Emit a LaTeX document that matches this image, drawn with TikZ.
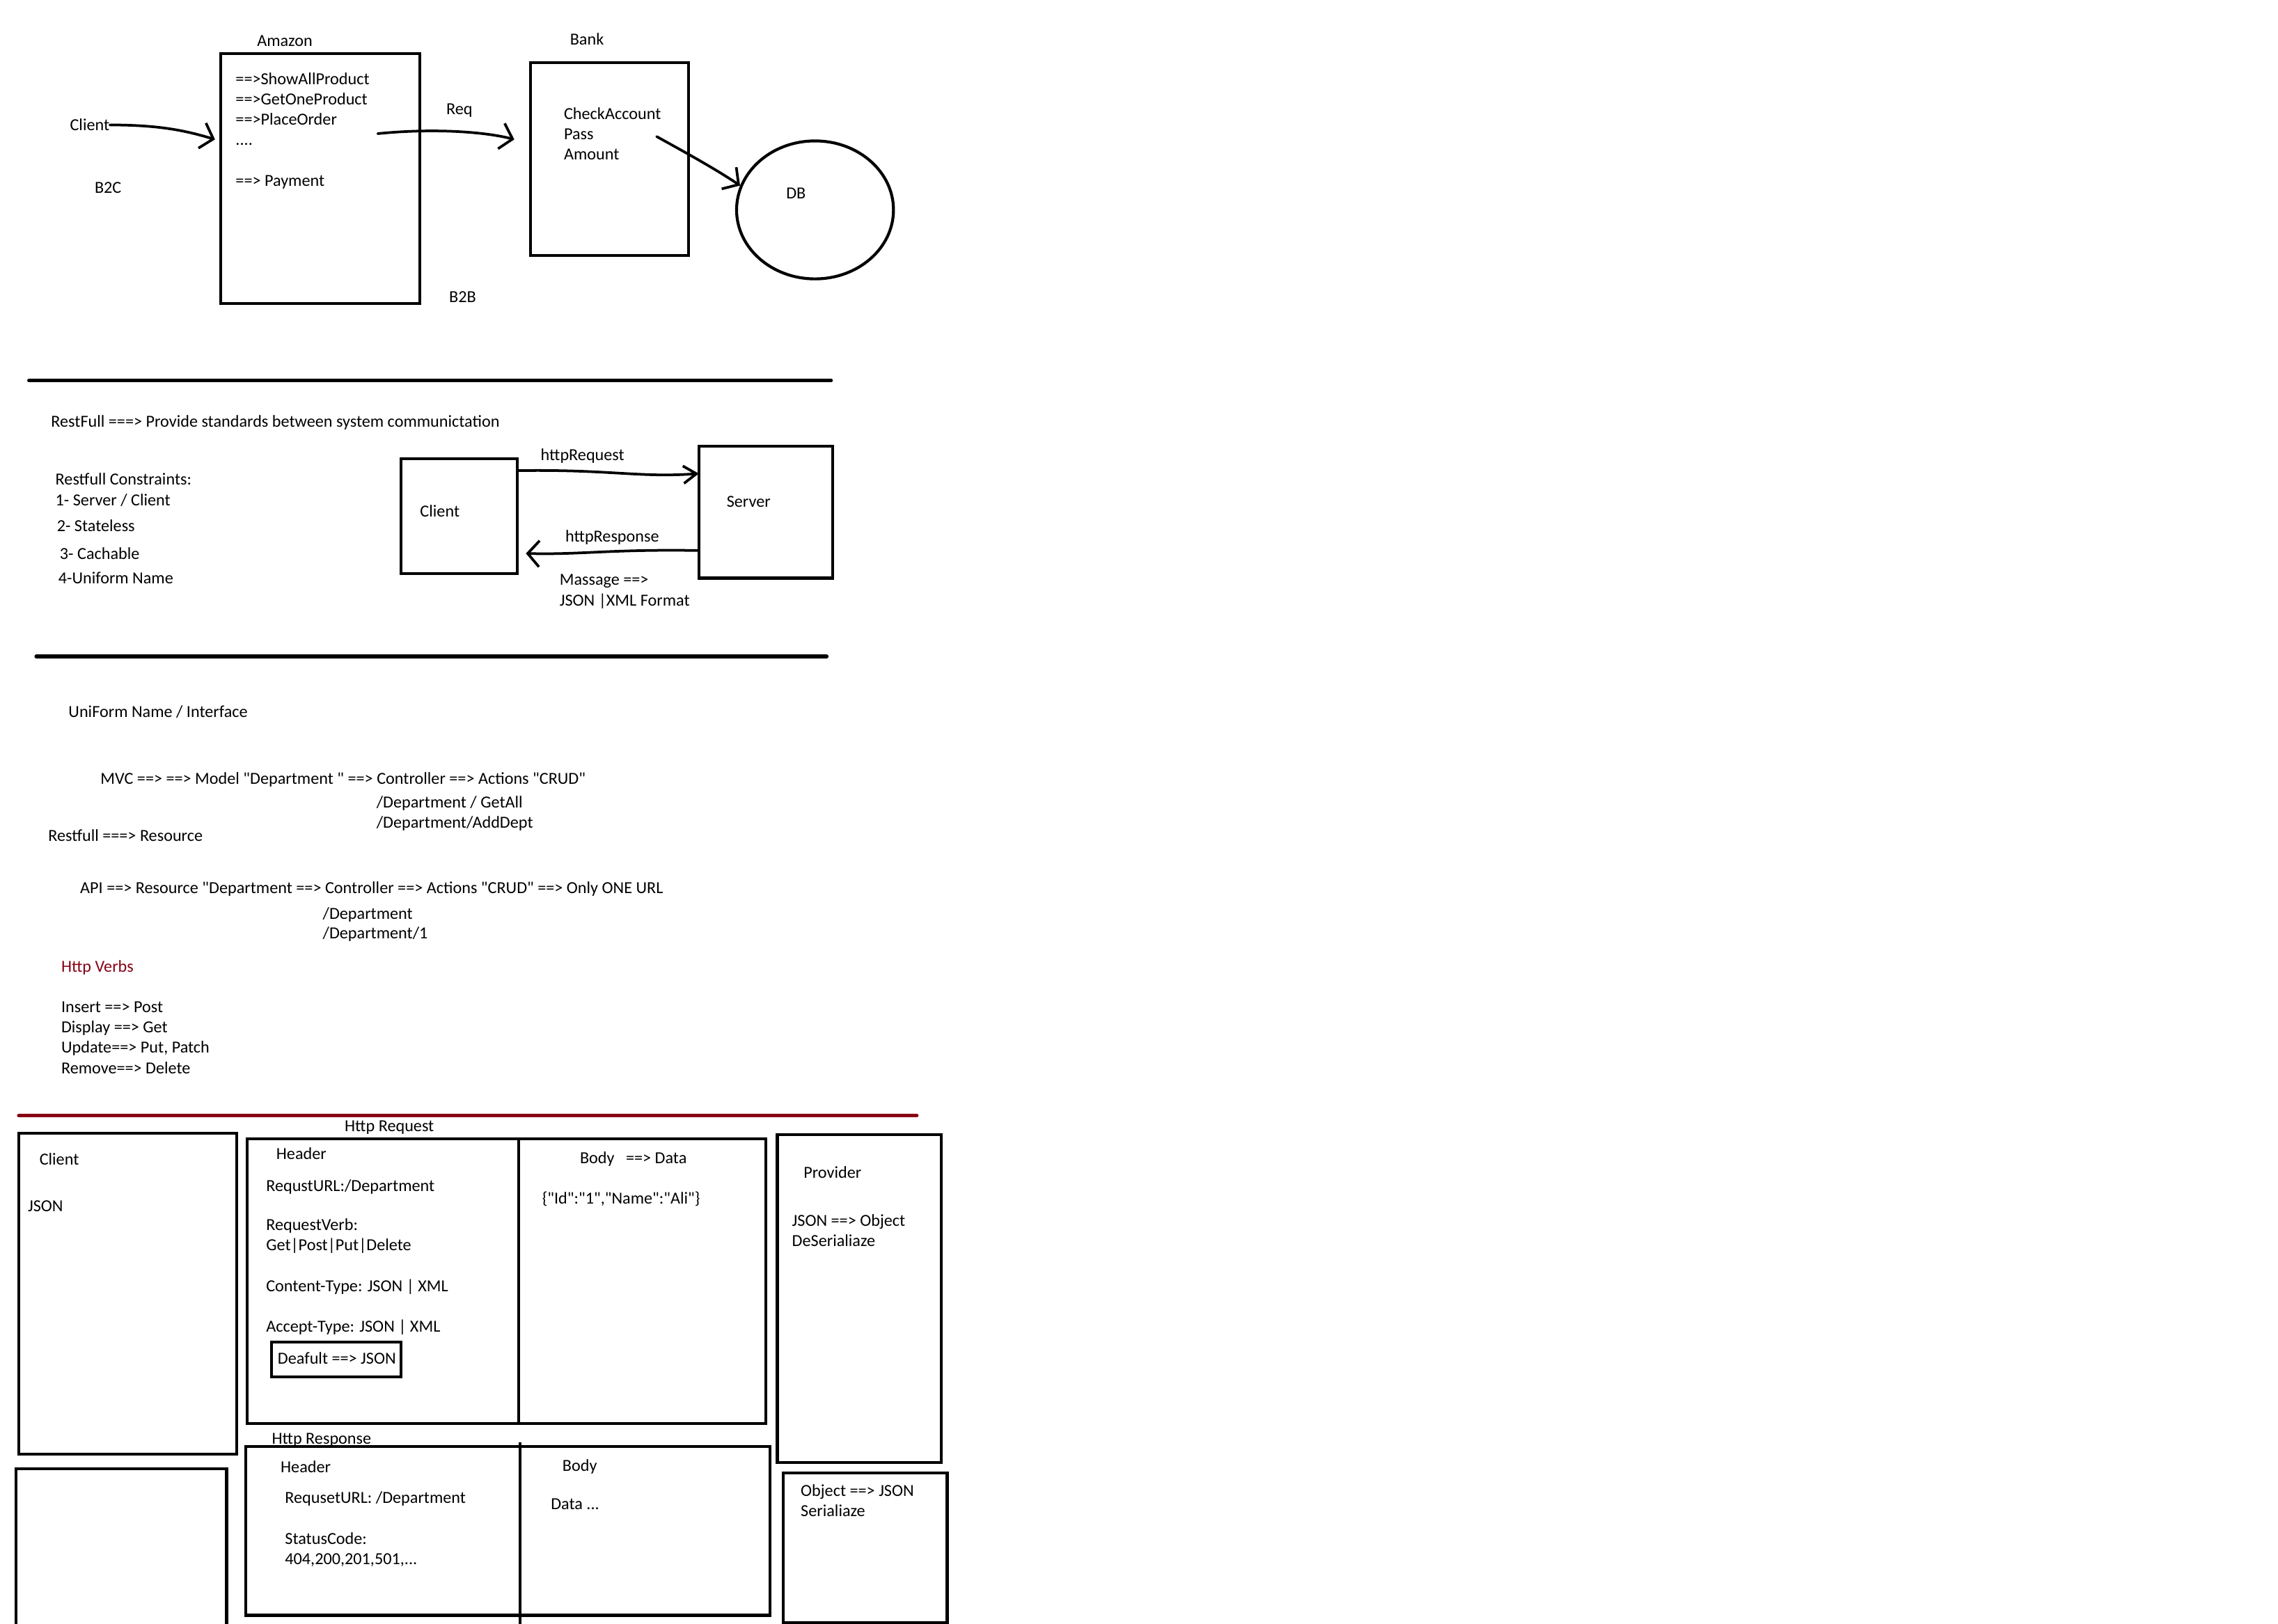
\documentclass[tikz,border=0pt]{standalone}
\usepackage{fontspec}
\setmainfont{Carlito}[Ligatures=TeXOff]
\usetikzlibrary{arrows.meta,shapes.geometric,calc}
\definecolor{pdred}{RGB}{136,0,21}
\begin{document}
\begin{tikzpicture}[x=1pt,y=-1pt,
  txt/.style={anchor=base west,inner sep=0pt,font=\fontsize{11.6}{14}\selectfont},
  ctxt/.style={anchor=base,inner sep=0pt,font=\fontsize{11.6}{14}\selectfont},
  box/.style={draw,line width=2pt,inner sep=0pt,outer sep=0pt},
  sepline/.style={line width=2.6pt,line cap=round},
  hand/.style={line width=1.8pt,line cap=round,line join=round},
  bigtip/.style={-{Straight Barb[length=8pt,width=18pt,line width=1.8pt]}},
  smalltip/.style={-{Straight Barb[length=9pt,width=12pt,line width=1.8pt]}}
  ]
\fill[white] (0,0) rectangle (1568,1118);
\useasboundingbox (0,0) rectangle (1568,1118);

% ---------- top section ----------
\node[ctxt] (amazonlbl) at (196,32) {Amazon};
\node[box,minimum width=137pt,minimum height=172pt] (amazon) at (220.5,123) {};
\node[txt] (a1) at (162,58) {==>ShowAllProduct};
\node[txt] (a2) at (162,72) {==>GetOneProduct};
\node[txt] (a3) at (162,86) {==>PlaceOrder};
\node[txt] (a4) at (162,100) {....};
\node[txt] (a5) at (162,128) {==> Payment};

\node[txt] (clientlbl) at (48,90) {Client};
\node[txt] (b2c) at (65,133) {B2C};
\coordinate (clienttip) at (148,96);
\draw[hand,bigtip] (clientlbl.east) .. controls (110,86) and (128,90) .. (clienttip);

\node[txt] (req) at (307,79) {Req};
\coordinate (reqstart) at (260,92);
\coordinate (reqtip) at (354,96);
\draw[hand,bigtip] (reqstart) .. controls (300,88) and (335,91) .. (reqtip);

\node[ctxt] (banklbl) at (404,31) {Bank};
\node[box,minimum width=109pt,minimum height=133pt] (bank) at (419.5,109.5) {};
\node[txt] (k1) at (388,82) {CheckAccount};
\node[txt] (k2) at (388,96) {Pass};
\node[txt] (k3) at (388,110) {Amount};

\node[draw,ellipse,line width=2pt,minimum width=108pt,minimum height=95pt,inner sep=0pt] (db) at (561,144.5) {};
\node[txt] (dblbl) at (541,137) {DB};
\coordinate (dbstart) at (452,94);
\draw[hand,bigtip] (dbstart) .. controls (470,104) and (492,116) .. (db.162);

\node[txt] (b2b) at (309,208) {B2B};

\draw[sepline] (20,262) coordinate (s1a) -- (572,262) coordinate (s1b);

% ---------- section 2 ----------
\node[txt] (rf) at (35,294) {RestFull ===> Provide standards between system communictation};
\node[txt] (c0) at (38,334) {Restfull Constraints:};
\node[txt] (c1) at (38,348) {1- Server / Client};
\node[txt] (c2) at (39,366) {2- Stateless};
\node[txt] (c3) at (41,385) {3- Cachable};
\node[txt] (c4) at (40,402) {4-Uniform Name};

\node[box,minimum width=80pt,minimum height=79pt] (client2) at (316,355.5) {};
\node[txt] (client2lbl) at (289,356) {Client};
\node[box,minimum width=92pt,minimum height=91pt] (server) at (527,352.5) {};
\node[txt] (serverlbl) at (500,349) {Server};
\node[txt] (hreq) at (372,317) {httpRequest};
\node[txt] (hres) at (389,373) {httpResponse};
\draw[hand,smalltip] ($(client2.north east)+(0,8)$) .. controls (420,323) and (440,329) .. ($(server.north west)+(0,19)$);
\draw[hand,bigtip] ($(server.south west)+(0,-19)$) .. controls (420,378) and (400,382) .. ($(client2.east)+(6,25.5)$);
\node[txt] (msg1) at (385,403) {Massage ==>};
\node[txt] (msg2) at (385,417) {JSON |XML Format};

\draw[sepline] (25,452) coordinate (s2a) -- (569,452) coordinate (s2b);

% ---------- section 3 ----------
\node[txt] (uni) at (47,494) {UniForm Name / Interface};
\node[txt] (mvc) at (69,540) {MVC ==> ==> Model "Department " ==> Controller ==> Actions "CRUD"};
\node[txt] (m1) at (259,556) {/Department / GetAll};
\node[txt] (m2) at (259,570) {/Department/AddDept};
\node[txt] (rr) at (33,579) {Restfull ===> Resource};
\node[txt] (api) at (55,615) {API ==> Resource "Department ==> Controller ==> Actions "CRUD" ==> Only ONE URL};
\node[txt] (p1) at (222,633) {/Department};
\node[txt] (p2) at (222,646) {/Department/1};
\node[txt,text=pdred] (verbs) at (42,669) {Http Verbs};
\node[txt] (v1) at (42,697) {Insert ==> Post};
\node[txt] (v2) at (42,711) {Display ==> Get};
\node[txt] (v3) at (42,725) {Update==> Put, Patch};
\node[txt] (v4) at (42,739) {Remove==> Delete};

\draw[sepline,draw=pdred] (13,768) coordinate (s3a) -- (631,768) coordinate (s3b);

% ---------- section 4 ----------
\node[ctxt] (httpreq) at (268,779) {Http Request};
\node[box,minimum width=150pt,minimum height=221pt] (clientR) at (88,890.5) {};
\node[txt] (clr1) at (27,802) {Client};
\node[txt] (clr2) at (19,834) {JSON};

\node[box,minimum width=357pt,minimum height=196pt] (request) at (348.5,882) {};
\draw[line width=2pt] (357,784) coordinate (rqd1) -- (357,980) coordinate (rqd2);
\node[txt] (rh) at (190,798) {Header};
\node[txt] (rh1) at (183,820) {RequstURL:/Department};
\node[txt] (rh2) at (183,847) {RequestVerb:};
\node[txt] (rh3) at (183,861) {Get|Post|Put|Delete};
\node[txt] (rh4) at (183,889) {Content-Type: JSON | XML};
\node[txt] (rh5) at (183,917) {Accept-Type: JSON | XML};
\node[box,minimum width=89pt,minimum height=24pt] (defbox) at (231.5,936) {};
\node[txt] (deflbl) at (191,939) {Deafult ==> JSON};
\node[txt] (rb) at (399,801) {Body\ \ \ ==> Data};
\node[txt] (rb1) at (373,829) {\{"Id":"1","Name":"Ali"\}};

\node[box,minimum width=113pt,minimum height=226pt] (provider) at (591.5,894) {};
\node[txt] (pv) at (553,811) {Provider};
\node[txt] (pv1) at (545,844) {JSON ==> Object};
\node[txt] (pv2) at (545,858) {DeSerialiaze};

\node[txt] (httpres) at (187,994) {Http Response};
\node[box,minimum width=361pt,minimum height=116pt] (response) at (349.5,1054) {};
\draw[line width=2pt] (358,993) coordinate (rsd1) -- (358,1118) coordinate (rsd2);
\node[txt] (sh) at (193,1014) {Header};
\node[txt] (sh1) at (196,1035) {RequsetURL: /Department};
\node[txt] (sh2) at (196,1063) {StatusCode:};
\node[txt] (sh3) at (196,1077) {404,200,201,501,...};
\node[txt] (sb) at (387,1013) {Body};
\node[txt] (sb1) at (379,1039) {Data ...};

\draw[line width=2pt] (11,1122) coordinate (bl1) -- (11,1011) -- (156,1011) -- (156,1122) coordinate (bl2);
\node[box,minimum width=113pt,minimum height=103pt] (objbox) at (595.5,1065.5) {};
\node[txt] (ob1) at (551,1030) {Object ==> JSON};
\node[txt] (ob2) at (551,1044) {Serialiaze};
\end{tikzpicture}
\end{document}
